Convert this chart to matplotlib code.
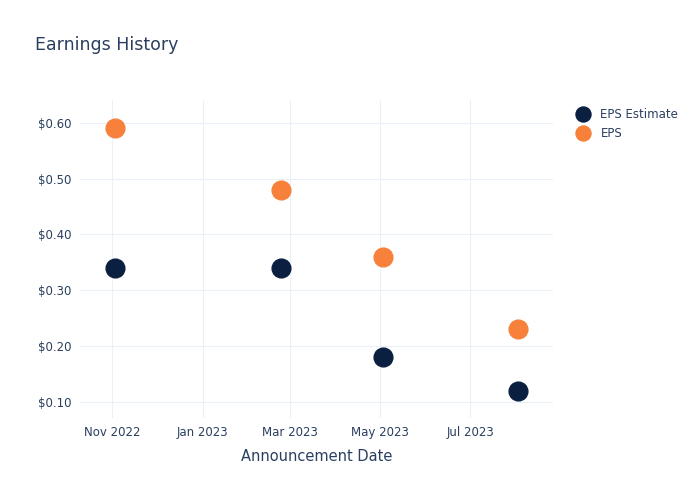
import matplotlib.pyplot as plt
import matplotlib.dates as mdates
import pandas as pd

# Data
dates = pd.to_datetime(["2022-11-03", "2023-02-23", "2023-05-03", "2023-08-02"])
eps_estimate = [0.34, 0.34, 0.18, 0.12]
eps_actual = [0.59, 0.48, 0.36, 0.23]

text_color = "#2a3f5f"
grid_color = "#ebf0f8"

fig = plt.figure(figsize=(7, 5), dpi=100)
ax = fig.add_axes([0.114, 0.164, 0.676, 0.636])

ax.plot(dates, eps_estimate, "o", color="#0b1f41", markersize=13.5,
        label="EPS Estimate", zorder=3)
ax.plot(dates, eps_actual, "o", color="#f7813a", markersize=13.5,
        label="EPS", zorder=3)

ax.set_xlim(pd.Timestamp("2022-10-10"), pd.Timestamp("2023-08-26"))
ax.set_ylim(0.071, 0.641)

ax.xaxis.set_major_locator(mdates.MonthLocator(bymonth=[1, 3, 5, 7, 9, 11]))
ax.xaxis.set_major_formatter(mdates.DateFormatter("%b %Y"))
ax.set_yticks([0.1, 0.2, 0.3, 0.4, 0.5, 0.6])
ax.yaxis.set_major_formatter(plt.FuncFormatter(lambda v, p: f"${v:.2f}"))

ax.grid(True, color=grid_color, linewidth=0.8)
ax.set_axisbelow(True)
for s in ax.spines.values():
    s.set_visible(False)
ax.tick_params(length=0, labelsize=8.5, colors=text_color, pad=6)

ax.set_xlabel("Announcement Date", fontsize=10.5, color=text_color, labelpad=7)
fig.text(0.05, 0.9, "Earnings History", fontsize=12.5, color=text_color)

leg = ax.legend(loc="upper left", bbox_to_anchor=(1.028, 0.99), frameon=False,
                fontsize=8.5, handletextpad=0.5, labelspacing=0.55,
                borderaxespad=0, markerscale=0.8)
for t in leg.get_texts():
    t.set_color(text_color)

fig.savefig("out.png", dpi=100)
